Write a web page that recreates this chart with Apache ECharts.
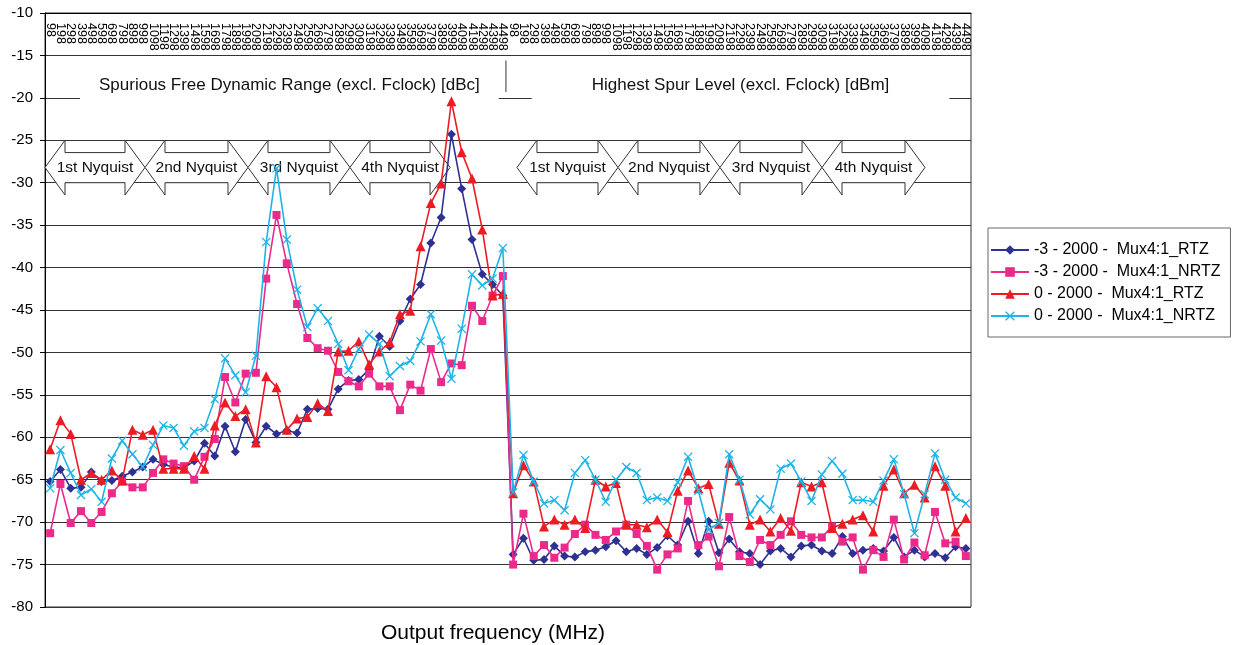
<!DOCTYPE html>
<html><head><meta charset="utf-8">
<script src="https://cdn.jsdelivr.net/npm/echarts/dist/echarts.min.js"></script>
<style>html,body{margin:0;padding:0;background:#fff}#c{width:1235px;height:645px}</style>
</head><body><div id="c"></div>
<script>
const FONT = '"Liberation Sans", Arial, sans-serif';

// tick labels (frequency in MHz), repeated for the two panels
const freqLabels = ['98','198','298','398','498','598','698','798','898','998','1098','1198','1298','1398','1498',
  '1598','1698','1798','1898','1998','2098','2198','2298','2398','2498','2598','2698','2798','2898','2998',
  '3098','3198','3298','3398','3498','3598','3698','3798','3898','3998','4098','4198','4298','4398','4498'];
const categories = freqLabels.concat(freqLabels);

const seriesNames = ['-3 - 2000 -  Mux4:1_RTZ','-3 - 2000 -  Mux4:1_NRTZ','0 - 2000 -  Mux4:1_RTZ','0 - 2000 -  Mux4:1_NRTZ'];
const seriesColors = ['#2E3192','#EC2A8C','#ED1C24','#1FB4E8'];

// -3 dBFS, RTZ
const rtzM3 = [
  -65.2,-63.8,-66.0,-65.9,-64.1,-65.2,-65.1,-64.6,-64.1,-63.5,-62.6,-63.2,-63.5,-63.6,-62.8,-60.7,-62.2,-58.7,-61.7,-57.9,
  -60.6,-58.7,-59.6,-59.2,-59.5,-56.7,-56.6,-56.7,-54.3,-53.3,-53.2,-52.0,-48.1,-49.3,-46.3,-43.7,-42.0,-37.1,-34.1,-24.3,
  -30.7,-36.7,-40.8,-42.0,-43.3,
  -73.8,-71.9,-74.5,-74.4,-72.8,-74.0,-74.1,-73.5,-73.3,-72.9,-72.2,-73.5,-73.1,-73.8,-73.0,-71.6,-72.7,-69.9,-73.7,-69.9,
  -73.6,-72.0,-73.5,-73.7,-75.0,-73.4,-73.1,-74.1,-72.8,-72.7,-73.4,-73.7,-71.7,-73.7,-73.3,-73.1,-73.4,-71.8,-74.1,-73.3,
  -74.1,-73.7,-74.2,-72.9,-73.1];
// -3 dBFS, NRTZ
const nrtzM3 = [
  -71.3,-65.5,-70.1,-68.7,-70.1,-68.8,-66.6,-65.2,-65.9,-65.9,-64.2,-62.6,-63.1,-63.4,-65.0,-62.3,-60.2,-52.9,-55.9,-52.5,
  -52.4,-41.3,-33.8,-39.5,-44.3,-48.3,-49.5,-49.8,-52.3,-53.4,-54.0,-52.5,-54.0,-54.0,-56.8,-53.8,-54.5,-49.6,-53.5,-51.3,
  -51.5,-44.5,-46.3,-43.3,-41.0,
  -75.0,-69.0,-74.0,-72.7,-74.2,-73.0,-71.4,-70.3,-71.5,-72.1,-71.1,-70.3,-71.4,-72.8,-75.6,-73.8,-73.1,-67.5,-72.7,-71.7,
  -75.2,-69.4,-74.0,-74.7,-72.1,-72.7,-71.5,-69.9,-71.5,-71.8,-71.8,-70.5,-72.3,-71.8,-75.6,-73.3,-74.1,-69.7,-74.4,-72.4,
  -73.9,-68.8,-72.5,-72.3,-74.0];
// 0 dBFS, RTZ
const rtz0 = [
  -61.4,-58.0,-59.6,-65.0,-64.2,-65.0,-63.9,-65.1,-59.1,-59.7,-59.1,-63.7,-63.7,-63.7,-62.2,-63.7,-58.6,-55.9,-57.5,-56.7,
  -60.6,-52.8,-54.1,-59.1,-57.8,-57.6,-56.0,-56.9,-49.9,-49.8,-48.7,-51.4,-49.9,-48.8,-45.5,-45.1,-37.5,-32.4,-30.1,-20.4,
  -26.4,-29.5,-35.5,-43.3,-43.1,
  -66.6,-63.3,-65.2,-70.5,-69.7,-70.3,-69.7,-70.7,-65.0,-65.8,-65.4,-70.3,-70.3,-70.6,-69.7,-71.2,-66.3,-63.9,-66.0,-65.5,
  -70.2,-63.0,-65.1,-70.3,-69.7,-71.1,-69.5,-71.0,-65.3,-65.8,-65.3,-70.7,-70.2,-69.7,-69.2,-71.1,-65.7,-63.8,-66.6,-65.6,
  -67.1,-63.4,-65.7,-71.1,-69.5];
// 0 dBFS, NRTZ
const nrtz0 = [
  -66.0,-61.5,-64.2,-66.8,-66.1,-67.6,-62.5,-60.4,-62.0,-63.5,-60.9,-58.6,-58.9,-61.0,-59.3,-58.9,-55.5,-50.7,-52.7,-54.7,
  -50.4,-37.0,-28.3,-36.7,-42.6,-47.0,-44.8,-46.3,-49.0,-52.1,-49.6,-47.9,-49.0,-52.8,-51.6,-51.0,-48.7,-45.5,-48.6,-53.1,
  -47.2,-40.8,-42.1,-41.3,-37.7,
  -66.5,-62.1,-65.2,-67.8,-67.4,-68.6,-64.2,-62.7,-65.0,-67.6,-65.0,-63.5,-64.2,-67.4,-67.1,-67.5,-65.3,-62.3,-66.3,-70.9,
  -70.1,-62.0,-65.0,-69.1,-67.3,-68.5,-63.7,-63.1,-65.2,-67.5,-64.4,-62.8,-64.3,-67.4,-67.4,-67.6,-65.1,-62.6,-66.7,-71.3,
  -66.7,-61.9,-65.0,-67.1,-67.8];

const yMin = -80, yMax = -10, yStep = 5;
const xAxisTitle = 'Output frequency (MHz)';
const panelTitles = ['Spurious Free Dynamic Range (excl. Fclock) [dBc]', 'Highest Spur Level (excl. Fclock) [dBm]'];
const nyquistLabels = ['1st Nyquist','2nd Nyquist','3rd Nyquist','4th Nyquist'];
// arrow edges in category-index units, one list per panel
const nyquistEdges = [[-0.5, 9.22, 19.23, 29.14, 38.87], [45.37, 55.19, 65.1, 75.02, 85.03]];

const X_SYMBOL = 'path://M0,1 L1,0 L5,4 L9,0 L10,1 L6,5 L10,9 L9,10 L5,6 L1,10 L0,9 L4,5 Z';
const symbols = ['diamond','rect','triangle',X_SYMBOL];
const symbolSizes = [9,8,10,9];
const dataSets = [rtzM3, nrtzM3, rtz0, nrtz0];

const chart = echarts.init(document.getElementById('c'), null, {renderer:'canvas'});
const option = {
  animation:false,
  backgroundColor:'#fff',
  textStyle:{fontFamily:FONT},
  title:{text:xAxisTitle, left:488, top:618, textAlign:'center',
    textStyle:{fontFamily:FONT, fontSize:21, fontWeight:'normal', color:'#000'}},
  grid:{left:45, top:13, width:926, height:594, show:true, borderColor:'#333', borderWidth:1, backgroundColor:'transparent'},
  legend:{orient:'vertical', left:988, top:228, padding:[14,10,13,2], itemGap:6, itemWidth:38, itemHeight:12,
    borderColor:'#666', borderWidth:1, backgroundColor:'#fff',
    textStyle:{fontFamily:FONT, fontSize:16, color:'#000'}, data:seriesNames},
  xAxis:{type:'category', data:categories, position:'top', boundaryGap:true,
    axisLine:{lineStyle:{color:'#000', width:1}},
    axisTick:{inside:true, length:46, interval:0, lineStyle:{color:'#000'}},
    axisLabel:{inside:true, rotate:90, interval:0, fontSize:12.5, margin:10, color:'#000', fontFamily:FONT},
    splitLine:{show:false}},
  yAxis:{type:'value', min:yMin, max:yMax, interval:yStep,
    axisLine:{show:true, lineStyle:{color:'#000'}},
    axisTick:{show:true, length:5, lineStyle:{color:'#000'}},
    axisLabel:{fontSize:15, color:'#000', margin:12, fontFamily:FONT},
    splitLine:{lineStyle:{color:'#333', width:1}}},
  series: dataSets.map((d,i)=>({
    name:seriesNames[i], type:'line', data:d, symbol:symbols[i], symbolSize:symbolSizes[i],
    showAllSymbol:true, z:10+i,
    lineStyle:{color:seriesColors[i], width:1.6},
    itemStyle:{color:seriesColors[i]},
    emphasis:{disabled:true}
  }))
};
chart.setOption(option);

// annotations positioned through the axes (linear interpolation between category centres)
const c0 = chart.convertToPixel({gridIndex:0}, [0, -10]);
const c1 = chart.convertToPixel({gridIndex:0}, [1, -10]);
function px(idx, val){
  const y = chart.convertToPixel({yAxisIndex:0}, val);
  return [c0[0] + idx*(c1[0]-c0[0]), y];
}
const graphics = [];
// panel title boxes (white, hide the -20 gridline)
const titleBoxes = [[2.9, 43.6], [46.8, 87.4]];
titleBoxes.forEach((b,i)=>{
  const p0 = px(b[0], -17.9), p1 = px(b[1], -20.6);
  graphics.push({type:'rect', z:5, shape:{x:p0[0], y:p0[1], width:p1[0]-p0[0], height:p1[1]-p0[1]}, style:{fill:'#fff'}});
  const c = px((b[0]+b[1])/2, -18.55);
  graphics.push({type:'text', z:6, x:c[0], y:c[1], style:{text:panelTitles[i], fill:'#111', font:'17px '+FONT, textAlign:'center', textVerticalAlign:'middle'}});
});
// separator between panels
{
  const a = px(44.3, -15.6), b = px(44.3, -19.3);
  graphics.push({type:'line', z:6, shape:{x1:a[0], y1:a[1], x2:b[0], y2:b[1]}, style:{stroke:'#333', lineWidth:1}});
}
// Nyquist double arrows
nyquistEdges.forEach(edges=>{
  for(let i=0;i<4;i++){
    const L = px(edges[i], -25)[0], R = px(edges[i+1], -25)[0];
    const T = px(0,-25)[1], B = px(0,-31.45)[1], M = px(0,-28.2)[1];
    const bT = px(0,-26.45)[1], bB = px(0,-30.0)[1];
    const h = 20;
    const pts = [[L,M],[L+h,T],[L+h,bT],[R-h,bT],[R-h,T],[R,M],[R-h,B],[R-h,bB],[L+h,bB],[L+h,B]];
    graphics.push({type:'polygon', z:3, shape:{points:pts}, style:{fill:'#fff', stroke:'#333', lineWidth:1}});
    graphics.push({type:'text', z:4, x:(L+R)/2, y:M, style:{text:nyquistLabels[i], fill:'#111', font:'15.5px '+FONT, textAlign:'center', textVerticalAlign:'middle'}});
  }
});
chart.setOption({graphic:graphics});
</script></body></html>
